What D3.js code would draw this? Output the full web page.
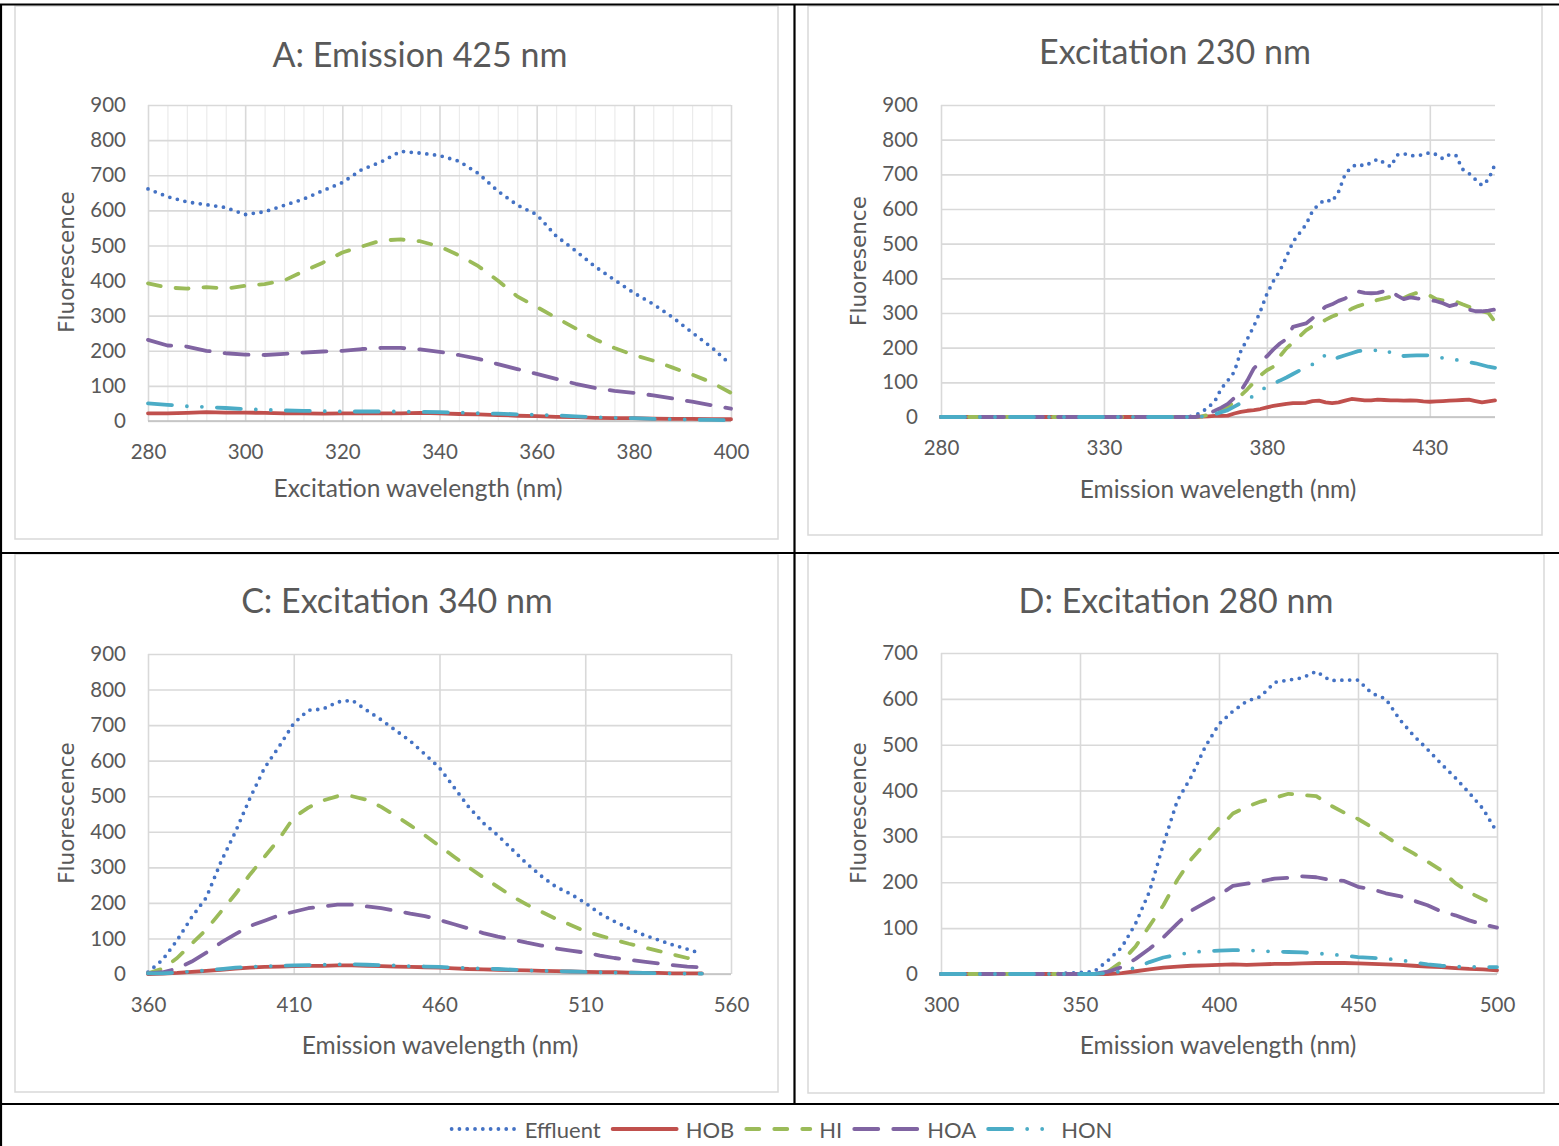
<!DOCTYPE html>
<html>
<head>
<meta charset="utf-8">
<script src="https://cdn.jsdelivr.net/npm/d3@7"></script>
<style>
  body { margin: 0; background: #fff; }
  svg { display: block; font-family: Lato, "Open Sans", sans-serif; }
</style>
</head>
<body>
<svg id="chart" width="1559" height="1146"></svg>
<script>
// ---- data ----
const seriesNames = ["Effluent", "HOB", "HI", "HOA", "HON"];

// A: Emission 425 nm
const aWave = [280,284,288,292,296,300,304,308,312,316,320,324,328,332,336,340,344,348,352,356,360,364,368,372,376,380,384,388,392,396,400];
const aEffluent = [661,639,624,616,608,588,596,614,632,656,679,716,738,768,763,756,740,705,655,615,588,527,485,440,402,365,333,295,252,210,160];
const aHOB = [22,22,23,25,24,24,23,22,22,21,22,22,22,22,23,22,20,19,17,15,14,12,11,9,8,8,7,6,6,5,5];
const aHI = [392,380,377,381,377,385,390,400,426,451,480,497,514,517,512,497,472,441,400,355,325,294,264,233,208,188,172,152,132,110,80];
const aHOA = [231,215,212,200,193,189,188,191,195,198,200,205,208,208,204,197,188,177,162,148,134,120,106,94,86,80,73,64,55,45,35];
const aHON = [50,46,42,40,37,34,32,30,29,28,27,27,27,27,26,25,24,22,21,19,18,16,13,11,9,8,6,5,4,3,2];

// B: Excitation 230 nm
const bWave = [280,300,320,340,356,358,360,362,364,366,368,370,372,374,376,378,380,382,384,386,388,390,392,394,396,398,400,402,404,406,408,410,412,414,416,418,420,422,424,426,428,430,432,434,436,438,440,442,444,446,448,450];
const bEffluent = [0,0,0,0,0,5,14,28,45,82,105,130,190,225,262,305,355,392,422,462,505,530,555,594,615,627,621,650,700,722,729,724,734,744,733,722,756,760,753,755,756,763,757,745,757,755,715,703,685,668,685,729];
const bHOB = [0,0,0,0,0,0,1,2,3,3,4,10,15,18,20,23,28,32,35,38,40,40,41,46,47,42,40,42,47,52,50,48,48,50,49,48,48,47,48,47,45,44,45,46,47,48,49,50,46,42,45,48];
const bHI = [0,0,0,0,0,0,2,6,12,20,28,45,62,80,100,120,135,145,175,198,215,232,250,262,270,280,290,297,302,312,320,326,330,338,342,347,344,343,352,358,356,350,340,336,334,333,325,318,308,305,300,275];
const bHOA = [0,0,0,0,0,0,3,10,18,27,38,55,75,105,140,160,175,195,212,225,260,265,270,285,302,318,325,335,342,355,362,358,357,358,363,365,350,340,345,342,340,337,334,328,320,325,318,310,305,305,307,310];
const bHON = [0,0,0,0,0,0,1,3,8,14,20,30,40,50,62,75,88,97,105,114,124,134,142,152,170,178,165,172,178,184,190,192,191,193,196,185,175,176,177,178,178,178,176,170,167,165,162,158,155,150,145,142];

// C: Excitation 340 nm
const cWave = [360,365,370,375,380,385,390,395,400,405,410,415,420,425,430,435,440,445,450,455,460,465,470,475,480,485,490,495,500,505,510,515,520,525,530,535,540,545,550];
const cEffluent = [5,40,95,160,215,315,400,495,580,640,705,742,745,765,770,742,715,685,655,618,580,525,470,425,390,350,310,275,245,225,200,170,148,128,110,96,82,70,57];
const cHOB = [0,1,3,6,9,12,15,18,20,21,22,23,23,24,24,23,22,21,20,19,18,16,14,13,12,11,10,9,8,7,6,5,5,4,3,3,2,2,2];
const cHI = [2,15,45,85,125,175,225,280,330,380,440,468,488,500,500,490,470,445,418,390,360,330,300,272,245,218,195,175,155,138,120,108,96,85,75,65,55,45,35];
const cHOA = [2,5,15,35,60,88,112,135,150,165,175,185,190,195,195,190,185,178,170,163,152,140,128,115,105,97,88,80,72,66,60,52,45,40,35,30,25,21,18];
const cHON = [2,2,4,7,10,14,18,20,22,23,24,25,26,27,27,26,25,24,22,21,20,18,17,15,14,12,10,9,8,7,6,5,4,4,3,2,2,1,1];

// D: Excitation 280 nm
const dWave = [300,320,340,355,360,365,370,375,380,385,390,395,400,405,410,415,420,425,430,435,440,445,450,455,460,465,470,475,480,485,490,495,500];
const dEffluent = [0,0,0,5,29,58,110,180,283,378,430,495,545,573,595,605,636,641,646,660,640,641,641,612,600,555,520,490,458,428,395,360,309];
const dHOB = [0,0,0,0,0,2,6,10,14,16,18,19,20,21,20,21,22,22,23,24,24,24,23,22,21,20,18,16,15,13,11,10,8];
const dHI = [0,0,0,0,5,27,60,105,150,205,250,285,318,350,365,376,384,393,390,388,368,352,338,320,300,280,263,245,226,198,178,163,150];
const dHOA = [0,0,0,0,5,15,33,55,80,110,138,155,172,192,197,202,208,210,213,211,205,203,190,185,176,170,160,150,136,128,117,108,101];
const dHON = [0,0,0,0,2,6,14,26,36,42,47,50,51,52,52,50,49,48,47,45,43,40,37,35,33,31,25,21,18,16,16,15,15];

// ---- styles ----
const colors = { Effluent: "#4472c4", HOB: "#c0504d", HI: "#9bbb59", HOA: "#8064a2", HON: "#4bacc6" };
const dashes = { Effluent: "0 7.8", HOB: null, HI: "13 15", HOA: "24 15", HON: "24 15 0 15 0 15" };
const lineW = 3.8;
const textGray = "#595959";

const svg = d3.select("#chart");

// outer table frame
const frame = [
  [0, 4.5, 1559, 4.5], [1, 4, 1, 1146], [794.5, 4, 794.5, 1104],
  [0, 553, 1559, 553], [0, 1104, 1559, 1104]
];

// chart area boxes
[[15, 6, 763, 533], [808, 6, 734, 529], [15, 554, 763, 538], [808, 554, 736, 539]].forEach(function (b) {
  svg.append("rect")
    .attr("x", b[0]).attr("y", b[1]).attr("width", b[2]).attr("height", b[3])
    .attr("fill", "#fff").attr("stroke", "#d9d9d9").attr("stroke-width", 1.5);
});

frame.forEach(function (l) {
  svg.append("line")
    .attr("x1", l[0]).attr("y1", l[1]).attr("x2", l[2]).attr("y2", l[3])
    .attr("stroke", "#000").attr("stroke-width", 2.2);
});

function drawPanel(p) {
  const x = d3.scaleLinear().domain(p.xDomain).range([p.left, p.right]);
  const y = d3.scaleLinear().domain([0, p.yMax]).range([p.bottom, p.top]);
  const g = svg.append("g");

  // minor vertical gridlines (panel A only)
  if (p.minorTicks) {
    g.append("g")
      .attr("transform", "translate(0," + p.bottom + ")")
      .call(d3.axisBottom(x).tickValues(p.minorTicks).tickSize(-(p.bottom - p.top)).tickFormat(""))
      .call(s => s.select(".domain").remove())
      .call(s => s.selectAll("line").attr("stroke", "#ebebeb").attr("stroke-width", 1.2));
  }

  // horizontal gridlines
  g.append("g")
    .attr("transform", "translate(" + p.left + ",0)")
    .call(d3.axisLeft(y).tickValues(p.yTicks).tickSize(-(p.right - p.left)).tickFormat(""))
    .call(s => s.select(".domain").remove())
    .call(s => s.selectAll("line").attr("stroke", "#d9d9d9").attr("stroke-width", 1.6));

  // vertical gridlines
  g.append("g")
    .attr("transform", "translate(0," + p.bottom + ")")
    .call(d3.axisBottom(x).tickValues(p.vGrid).tickSize(-(p.bottom - p.top)).tickFormat(""))
    .call(s => s.select(".domain").remove())
    .call(s => s.selectAll("line").attr("stroke", "#d9d9d9").attr("stroke-width", 1.6));

  // x axis line
  g.append("line")
    .attr("x1", p.left).attr("x2", p.right).attr("y1", y(0)).attr("y2", y(0))
    .attr("stroke", "#bfbfbf").attr("stroke-width", 1.6);

  // tick labels
  g.append("g")
    .attr("transform", "translate(" + p.left + ",0)")
    .call(d3.axisLeft(y).tickValues(p.yTicks).tickSize(0).tickPadding(p.yPad))
    .call(s => s.select(".domain").remove())
    .call(s => s.selectAll("text").attr("fill", textGray).style("font-size", "20.5px").style("font-family", "Lato"));

  g.append("g")
    .attr("transform", "translate(0," + p.bottom + ")")
    .call(d3.axisBottom(x).tickValues(p.xTicks).tickSize(0).tickPadding(23))
    .call(s => s.select(".domain").remove())
    .call(s => s.selectAll("text").attr("fill", textGray).style("font-size", "20.5px").style("font-family", "Lato"));

  // lines
  const line = d3.line().x(d => x(d[0])).y(d => y(d[1]));
  seriesNames.forEach(function (name, i) {
    const pts = p.xs.map((v, k) => [v, p.series[i][k]]);
    g.append("path")
      .datum(pts)
      .attr("d", line)
      .attr("fill", "none")
      .attr("stroke", colors[name])
      .attr("stroke-width", lineW)
      .attr("stroke-linecap", "round")
      .attr("stroke-linejoin", "round")
      .attr("stroke-dasharray", dashes[name]);
  });

  // titles
  g.append("text")
    .attr("x", p.titleX).attr("y", p.titleY)
    .attr("text-anchor", "middle").attr("dominant-baseline", "central")
    .attr("fill", textGray).style("font-size", "34px")
    .text(p.title);

  g.append("text")
    .attr("x", p.xLabelX).attr("y", p.bottom + p.xLabelDy)
    .attr("text-anchor", "middle").attr("dominant-baseline", "central")
    .attr("fill", textGray).style("font-size", "24.5px")
    .text(p.xLabel);

  g.append("text")
    .attr("transform", "translate(" + p.yLabelX + "," + p.yLabelY + ") rotate(-90)")
    .attr("text-anchor", "middle").attr("dominant-baseline", "central")
    .attr("fill", textGray).style("font-size", "21.5px").style("font-family", "DejaVu Sans")
    .text(p.yLabel);
}

drawPanel({
  left: 148, right: 731, top: 105, bottom: 421, xDomain: [280, 400], yMax: 900,
  xTicks: [280, 300, 320, 340, 360, 380, 400], vGrid: [280, 300, 320, 340, 360, 380, 400],
  minorTicks: d3.range(284, 400, 4).filter(v => v % 20 !== 0),
  yTicks: d3.range(0, 901, 100), yPad: 22,
  title: "A: Emission 425 nm", titleX: 420, titleY: 53,
  xLabel: "Excitation wavelength (nm)", xLabelX: 418, xLabelDy: 66,
  yLabel: "Fluorescence", yLabelX: 66, yLabelY: 262,
  xs: aWave, series: [aEffluent, aHOB, aHI, aHOA, aHON]
});

drawPanel({
  left: 941, right: 1495, top: 105, bottom: 417, xDomain: [280, 450], yMax: 900,
  xTicks: [280, 330, 380, 430], vGrid: [280, 330, 380, 430],
  yTicks: d3.range(0, 901, 100), yPad: 23,
  title: "Excitation 230 nm", titleX: 1175, titleY: 50,
  xLabel: "Emission wavelength (nm)", xLabelX: 1218, xLabelDy: 71,
  yLabel: "Fluoresence", yLabelX: 858, yLabelY: 261,
  xs: bWave, series: [bEffluent, bHOB, bHI, bHOA, bHON]
});

drawPanel({
  left: 148, right: 731, top: 654, bottom: 974, xDomain: [360, 560], yMax: 900,
  xTicks: [360, 410, 460, 510, 560], vGrid: [360, 410, 460, 510, 560],
  yTicks: d3.range(0, 901, 100), yPad: 22,
  title: "C: Excitation 340 nm", titleX: 397, titleY: 599,
  xLabel: "Emission wavelength (nm)", xLabelX: 440, xLabelDy: 70,
  yLabel: "Fluorescence", yLabelX: 66, yLabelY: 813,
  xs: cWave, series: [cEffluent, cHOB, cHI, cHOA, cHON]
});

drawPanel({
  left: 941, right: 1497, top: 653, bottom: 974, xDomain: [300, 500], yMax: 700,
  xTicks: [300, 350, 400, 450, 500], vGrid: [300, 350, 400, 450, 500],
  yTicks: d3.range(0, 701, 100), yPad: 23,
  title: "D: Excitation 280 nm", titleX: 1176, titleY: 599,
  xLabel: "Emission wavelength (nm)", xLabelX: 1218, xLabelDy: 70,
  yLabel: "Fluorescence", yLabelX: 858, yLabelY: 813,
  xs: dWave, series: [dEffluent, dHOB, dHI, dHOA, dHON]
});

// legend
const legend = svg.append("g");
const sampleLen = 68;
let cursor = 0;
seriesNames.forEach(function (name) {
  const it = legend.append("g");
  it.append("line")
    .attr("x1", cursor + 2).attr("x2", cursor + sampleLen - 2).attr("y1", 0).attr("y2", 0)
    .attr("stroke", colors[name]).attr("stroke-width", lineW)
    .attr("stroke-linecap", "round")
    .attr("stroke-dasharray", dashes[name]);
  const t = it.append("text")
    .attr("x", cursor + sampleLen + 7).attr("y", 0)
    .attr("dominant-baseline", "central")
    .attr("fill", textGray).style("font-size", "22px")
    .text(name);
  cursor += sampleLen + 7 + t.node().getComputedTextLength() + 10;
});
legend.attr("transform", "translate(" + (781 - (cursor - 10) / 2) + ",1129)");
</script>
</body>
</html>
